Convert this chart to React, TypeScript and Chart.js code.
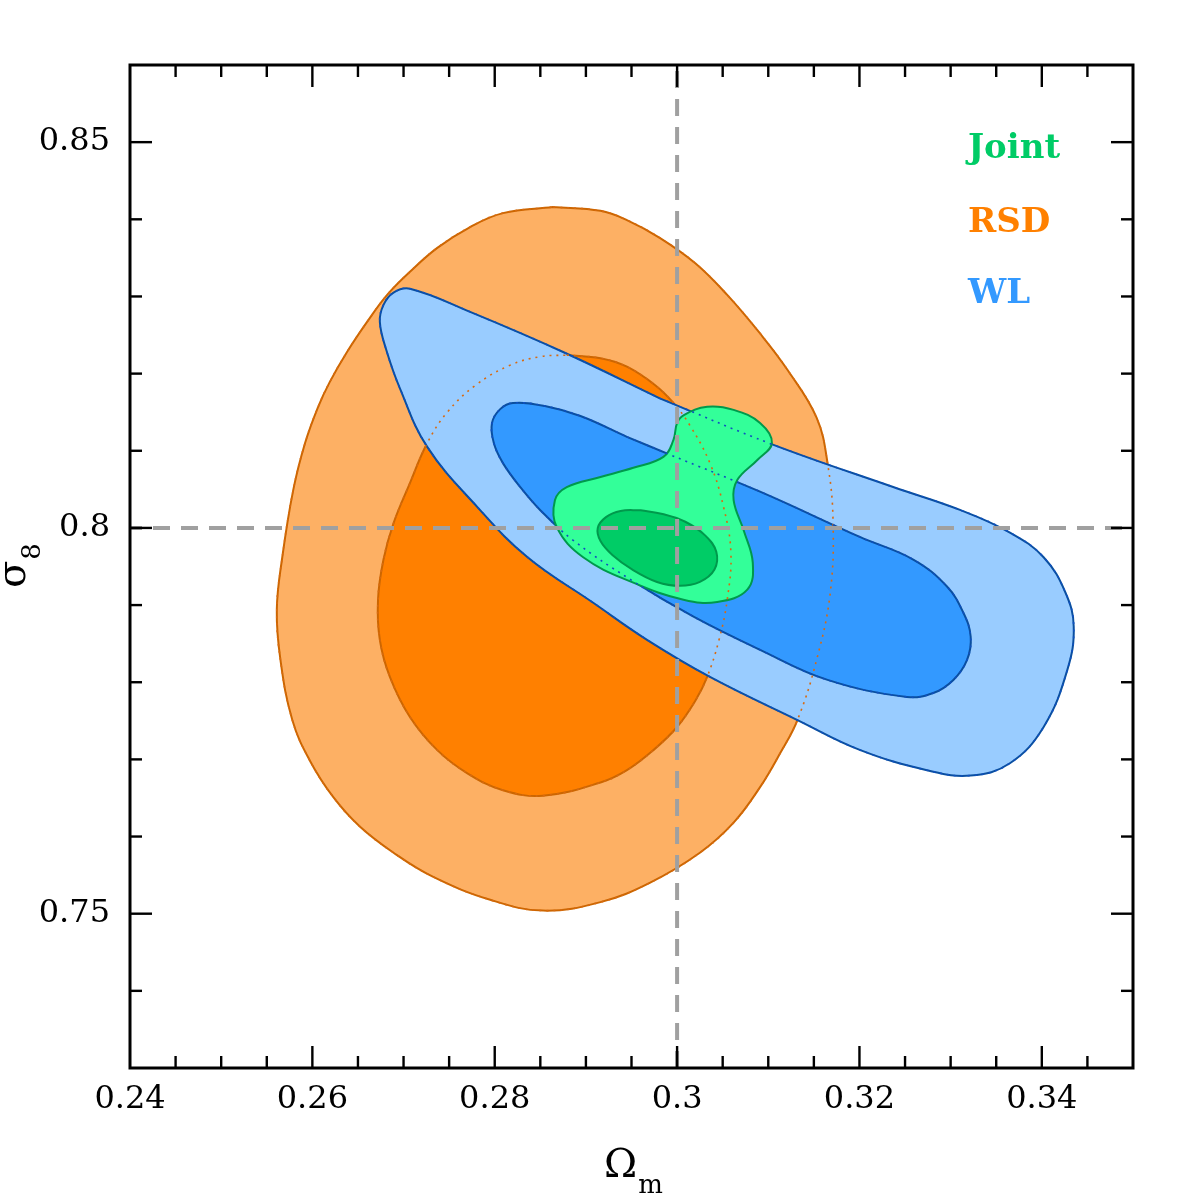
import React, { useEffect, useRef } from 'react';
import { Chart, registerables } from 'chart.js';

Chart.register(...registerables);

type Pt = [number, number];

// ---- axes ----
const xMin = 0.24;
const xMax = 0.35;
const yMin = 0.73;
const yMax = 0.86;
const xMajorTicks = [0.24, 0.26, 0.28, 0.3, 0.32, 0.34];
const xTickLabels = ['0.24', '0.26', '0.28', '0.3', '0.32', '0.34'];
const yMajorTicks = [0.75, 0.8, 0.85];
const yTickLabels = ['0.75', '0.8', '0.85'];
const xMinorStep = 0.005;
const yMinorStep = 0.01;

// ---- fiducial cosmology ----
const fiducialOmegaM = 0.3;
const fiducialSigma8 = 0.8;

// ---- legend ----
const legendLabels = ['Joint', 'RSD', 'WL'];
const legendColors = ['#00CC66', '#FF8000', '#3399FF'];

// ---- contours (Omega_m, sigma_8) ----
const rsdOuter: Pt[] = [
  [0.2864, 0.8416], [0.2916, 0.8411], [0.2945, 0.8399], [0.2981, 0.8376], [0.302, 0.8343],
  [0.3055, 0.8302], [0.3091, 0.8252], [0.3121, 0.8205], [0.3153, 0.8143], [0.3165, 0.8084],
  [0.3171, 0.801], [0.3168, 0.7916], [0.3153, 0.7829], [0.3132, 0.7751], [0.3113, 0.7708],
  [0.3091, 0.7664], [0.3062, 0.7618], [0.3025, 0.7579], [0.297, 0.754], [0.2916, 0.7515],
  [0.2853, 0.7504], [0.2795, 0.7518], [0.2732, 0.7548], [0.2689, 0.7579], [0.2652, 0.7613],
  [0.2623, 0.7651], [0.2597, 0.7699], [0.2578, 0.7751], [0.2565, 0.7829], [0.2561, 0.7894],
  [0.2567, 0.7962], [0.2579, 0.8049], [0.2592, 0.811], [0.2606, 0.8156], [0.2619, 0.8189],
  [0.2638, 0.8228], [0.266, 0.8267], [0.2682, 0.8302], [0.2707, 0.8332], [0.2737, 0.8363],
  [0.2773, 0.839], [0.2809, 0.8408],
];

const rsdInner: Pt[] = [
  [0.2879, 0.8224], [0.2916, 0.822], [0.2945, 0.8209], [0.2976, 0.8185], [0.2996, 0.8162],
  [0.3014, 0.8133], [0.3036, 0.8084], [0.3051, 0.8027], [0.3059, 0.7968], [0.3055, 0.7907],
  [0.3046, 0.7855], [0.3033, 0.7807], [0.302, 0.7776], [0.3, 0.7742], [0.2974, 0.7712],
  [0.2945, 0.7686], [0.2916, 0.767], [0.2853, 0.7653], [0.2809, 0.766], [0.277, 0.7682],
  [0.2737, 0.7712], [0.2707, 0.7755], [0.2685, 0.7807], [0.2674, 0.7855], [0.2672, 0.7907],
  [0.2678, 0.7959], [0.2689, 0.8006], [0.2707, 0.8058], [0.2726, 0.811], [0.2748, 0.815],
  [0.2779, 0.8185], [0.2817, 0.8211], [0.285, 0.8222],
];

const wlOuter: Pt[] = [
  [0.2981, 0.8168], [0.3105, 0.8108], [0.3237, 0.8053], [0.3311, 0.8023], [0.3365, 0.7994],
  [0.3402, 0.7962], [0.3426, 0.7916], [0.3435, 0.7872], [0.3428, 0.7816], [0.3402, 0.7742],
  [0.3365, 0.7695], [0.3322, 0.7679], [0.3274, 0.7686], [0.3201, 0.7712], [0.3132, 0.7751],
  [0.3036, 0.7807], [0.2967, 0.7855], [0.2908, 0.7903], [0.2836, 0.7962], [0.2781, 0.8027],
  [0.2726, 0.8105], [0.2696, 0.8181], [0.2681, 0.8231], [0.2674, 0.8267], [0.2678, 0.8289],
  [0.2689, 0.8305], [0.2707, 0.831], [0.2773, 0.828], [0.2875, 0.8228],
];

const wlInner: Pt[] = [
  [0.2945, 0.8118], [0.2992, 0.8095], [0.3091, 0.8047], [0.3201, 0.7988], [0.3259, 0.7959],
  [0.3296, 0.7924], [0.3314, 0.789], [0.3322, 0.7859], [0.3318, 0.7829], [0.3303, 0.7803],
  [0.3281, 0.7786], [0.3252, 0.7781], [0.3165, 0.7803], [0.3091, 0.7842], [0.3018, 0.7885],
  [0.2949, 0.7933], [0.2886, 0.7984], [0.285, 0.8023], [0.2828, 0.8053], [0.2809, 0.8084],
  [0.2799, 0.811], [0.2797, 0.8136], [0.2806, 0.8154], [0.282, 0.8162], [0.2855, 0.8158],
  [0.2894, 0.8145],
];

const jointOuter: Pt[] = [
  [0.2916, 0.8066], [0.2952, 0.8078], [0.2985, 0.8092], [0.2996, 0.8114], [0.3, 0.8136],
  [0.3007, 0.8146], [0.3033, 0.8157], [0.3062, 0.8153], [0.3091, 0.8136], [0.3104, 0.811],
  [0.3088, 0.8088], [0.3066, 0.8062], [0.3062, 0.8036], [0.3073, 0.7997], [0.3083, 0.7955],
  [0.3077, 0.792], [0.3044, 0.7904], [0.3007, 0.7907], [0.2952, 0.7929], [0.2897, 0.7962],
  [0.2868, 0.8001], [0.2866, 0.8036], [0.2879, 0.8053],
];

const jointInner: Pt[] = [
  [0.296, 0.8023], [0.2984, 0.8018], [0.3009, 0.8008], [0.3031, 0.799], [0.3043, 0.7969],
  [0.3041, 0.7946], [0.3025, 0.793], [0.3003, 0.7925], [0.2978, 0.793], [0.2951, 0.7946],
  [0.2929, 0.7965], [0.2916, 0.7983], [0.2913, 0.8], [0.2922, 0.8014], [0.2938, 0.8022],
];

const toXY = (pts: Pt[]) => [...pts, pts[0]].map(([x, y]) => ({ x, y }));

function filled(label: string, pts: Pt[], fillColor: string, edge: string, order: number) {
  return {
    type: 'line' as const,
    label,
    data: toXY(pts),
    fill: 'shape',
    backgroundColor: fillColor,
    borderColor: edge,
    borderWidth: 2,
    borderJoinStyle: 'round',
    borderCapStyle: 'round',
    pointRadius: 0,
    tension: 0.4,
    order,
  };
}

function dotted(label: string, pts: Pt[], color: string, order: number) {
  return {
    type: 'line' as const,
    label,
    data: toXY(pts),
    fill: false,
    borderColor: color,
    borderWidth: 1.6,
    borderDash: [2, 5],
    pointRadius: 0,
    tension: 0.4,
    order,
  };
}

const decorPlugin = {
  id: 'decor',
  afterDatasetsDraw(chart: any) {
    const { ctx, chartArea: a, scales } = chart;
    const xs = scales.x;
    const ys = scales.y;
    ctx.save();
    ctx.strokeStyle = '#000';
    ctx.lineCap = 'butt';
    const seg = (x1: number, y1: number, x2: number, y2: number) => {
      ctx.beginPath();
      ctx.moveTo(x1, y1);
      ctx.lineTo(x2, y2);
      ctx.stroke();
    };
    const isMajor = (v: number, majors: number[]) => majors.some((m) => Math.abs(m - v) < 1e-6);
    ctx.lineWidth = 2.4;
    const nx = Math.round((xMax - xMin) / xMinorStep);
    for (let i = 1; i < nx; i++) {
      const v = xMin + i * xMinorStep;
      const len = isMajor(v, xMajorTicks) ? 22 : 12;
      const px = xs.getPixelForValue(v);
      seg(px, a.bottom, px, a.bottom - len);
      seg(px, a.top, px, a.top + len);
    }
    const ny = Math.round((yMax - yMin) / yMinorStep);
    for (let i = 1; i < ny; i++) {
      const v = yMin + i * yMinorStep;
      const len = isMajor(v, yMajorTicks) ? 22 : 12;
      const py = ys.getPixelForValue(v);
      seg(a.left, py, a.left + len, py);
      seg(a.right, py, a.right - len, py);
    }
    ctx.lineWidth = 3;
    ctx.strokeRect(a.left, a.top, a.right - a.left, a.bottom - a.top);
    ctx.restore();
  },
  afterDraw(chart: any) {
    const { ctx, chartArea: a } = chart;
    ctx.save();
    // legend
    ctx.font = 'bold 34px "DejaVu Serif"';
    ctx.textAlign = 'left';
    ctx.textBaseline = 'alphabetic';
    const legendY = [158, 232, 303];
    legendLabels.forEach((t, i) => {
      ctx.fillStyle = legendColors[i];
      ctx.fillText(t, a.right - 165, legendY[i]);
    });
    // x title
    ctx.fillStyle = '#000';
    ctx.font = '40px "DejaVu Serif"';
    const omX = 604;
    ctx.fillText('\u03A9', omX, 1177);
    const wOm = ctx.measureText('\u03A9').width;
    ctx.font = '26px "DejaVu Serif"';
    ctx.fillText('m', omX + wOm + 1, 1193);
    // y title
    ctx.translate(25, 588);
    ctx.rotate(-Math.PI / 2);
    ctx.font = '40px "DejaVu Serif"';
    ctx.fillText('\u03C3', 0, 0);
    const wS = ctx.measureText('\u03C3').width;
    ctx.font = '26px "DejaVu Serif"';
    ctx.fillText('8', wS + 1, 15);
    ctx.restore();
  },
};

export default function App() {
  const ref = useRef<HTMLCanvasElement | null>(null);
  useEffect(() => {
    if (!ref.current) return;
    const datasets: any[] = [
      {
        type: 'line',
        label: 'fiducial Omega_m',
        data: [{ x: fiducialOmegaM, y: yMin }, { x: fiducialOmegaM, y: yMax }],
        borderColor: '#A0A0A0',
        borderWidth: 4,
        borderDash: [17, 11],
        pointRadius: 0,
        fill: false,
        order: 0,
      },
      {
        type: 'line',
        label: 'fiducial sigma_8',
        data: [{ x: xMin, y: fiducialSigma8 }, { x: xMax, y: fiducialSigma8 }],
        borderColor: '#A0A0A0',
        borderWidth: 4,
        borderDash: [17, 11],
        borderDashOffset: 5,
        pointRadius: 0,
        fill: false,
        order: 0,
      },
      dotted('WL 1σ hidden', wlInner, '#1050C0', 1),
      dotted('WL 2σ hidden', wlOuter, '#1050C0', 2),
      dotted('RSD 1σ hidden', rsdInner, '#D86A10', 3),
      dotted('RSD 2σ hidden', rsdOuter, '#D86A10', 4),
      filled('Joint 1σ', jointInner, '#00CC66', '#00994C', 5),
      filled('Joint 2σ', jointOuter, '#33FF99', '#00994C', 6),
      filled('WL 1σ', wlInner, '#3399FF', '#0A4FA0', 7),
      filled('WL 2σ', wlOuter, '#99CCFF', '#0A4FA0', 8),
      filled('RSD 1σ', rsdInner, '#FF8000', '#CC6600', 9),
      filled('RSD 2σ', rsdOuter, '#FDB064', '#CC6600', 10),
    ];
    const chart = new Chart(ref.current, {
      type: 'line',
      data: { datasets },
      options: {
        responsive: false,
        animation: false,
        devicePixelRatio: 1,
        events: [],
        layout: { padding: { top: 65, right: 63, left: 0, bottom: 0 } },
        plugins: { legend: { display: false }, tooltip: { enabled: false } },
        scales: {
          x: {
            type: 'linear',
            min: xMin,
            max: xMax,
            grid: { display: false, drawTicks: false },
            border: { display: false },
            ticks: {
              color: '#000',
              font: { family: 'DejaVu Serif', size: 32 },
              padding: 12,
              maxRotation: 0,
              autoSkip: false,
              callback: (_v: any, i: number) => xTickLabels[i],
            },
            afterBuildTicks: (s: any) => {
              s.ticks = xMajorTicks.map((value) => ({ value }));
            },
            afterFit: (s: any) => {
              s.height = 128;
            },
          },
          y: {
            type: 'linear',
            min: yMin,
            max: yMax,
            grid: { display: false, drawTicks: false },
            border: { display: false },
            ticks: {
              color: '#000',
              font: { family: 'DejaVu Serif', size: 32 },
              padding: 20,
              autoSkip: false,
              callback: (_v: any, i: number) => yTickLabels[i],
            },
            afterBuildTicks: (s: any) => {
              s.ticks = yMajorTicks.map((value) => ({ value }));
            },
            afterFit: (s: any) => {
              s.width = 130;
            },
          },
        },
      } as any,
      plugins: [decorPlugin],
    });
    return () => chart.destroy();
  }, []);
  return (
    <div style={{ position: 'absolute', left: 0, top: 0, width: 1196, height: 1196, background: '#fff' }}>
      <canvas ref={ref} width={1196} height={1196} style={{ display: 'block' }} />
    </div>
  );
}
